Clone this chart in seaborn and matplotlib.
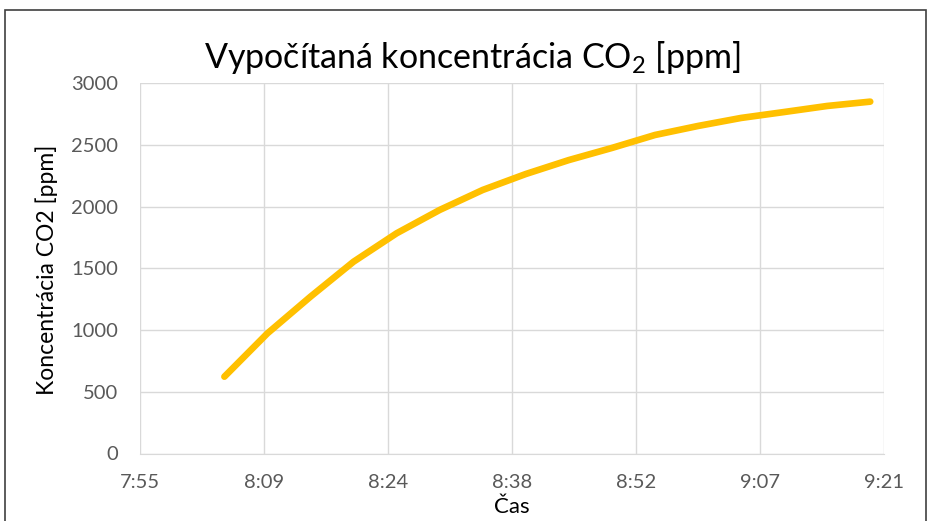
import matplotlib
matplotlib.use("Agg")
import matplotlib.pyplot as plt
import seaborn as sns
import pandas as pd
import numpy as np
from matplotlib.patches import Rectangle

# data (every 5 min)
cas = ["8:05", "8:10", "8:15", "8:20", "8:25", "8:30", "8:35", "8:40",
       "8:45", "8:50", "8:55", "9:00", "9:05", "9:10", "9:15", "9:20"]
co2 = [622, 973, 1270, 1553, 1783, 1972, 2134, 2263,
       2376, 2474, 2579, 2652, 2717, 2765, 2814, 2849]
x_ticks = [0.33, 0.34, 0.35, 0.36, 0.37, 0.38, 0.39]  # Excel day fractions
x_labels = ["7:55", "8:09", "8:24", "8:38", "8:52", "9:07", "9:21"]
y_ticks = [0, 500, 1000, 1500, 2000, 2500, 3000]

df = pd.DataFrame({"cas": cas, "co2": co2})
df["den"] = pd.to_timedelta(df["cas"] + ":00") / pd.Timedelta(days=1)

sns.set_style("white")
plt.rcParams['font.family'] = ['Lato', 'DejaVu Sans']
plt.rcParams['mathtext.fontset'] = 'custom'
plt.rcParams['mathtext.rm'] = 'Lato'

fig = plt.figure(figsize=(9.29, 5.21), dpi=100)
ax = fig.add_axes([140/929, 1-453.5/521, (884-140)/929, (453.5-83)/521])

sns.lineplot(data=df, x="den", y="co2", ax=ax, color="#FFC000", linewidth=4.8,
             solid_capstyle="round", solid_joinstyle="round")

ax.set_xlim(0.33, 0.39)
ax.set_ylim(0, 3000)
ax.set_xticks(x_ticks)
ax.set_xticklabels(x_labels)
ax.set_yticks(y_ticks)
ax.grid(True, color="#D9D9D9", linewidth=1)
ax.set_axisbelow(True)
for s in ["top", "right", "left"]:
    ax.spines[s].set_visible(False)
ax.spines["bottom"].set_color("#D9D9D9")
ax.tick_params(axis="both", length=0, labelsize=14.5, labelcolor="#595959")
ax.tick_params(axis="y", pad=16)
ax.tick_params(axis="x", pad=15)
ax.set_xlabel("")
ax.set_ylabel("")

fig.text(472/929, 1-57/521, r"Vypočítaná koncentrácia CO$_\mathrm{2}$ [ppm]",
         ha="center", va="center", fontsize=24.5, color="black")
fig.text(47/929, 1-270/521, "Koncentrácia CO2 [ppm]", rotation=90,
         ha="center", va="center", fontsize=16.5, color="black")
fig.text(512/929, 1-507/521, "Čas", ha="center", va="center",
         fontsize=16, color="black")

# chart border
fig.patches.append(Rectangle((5/929, -0.2), 921/929, 1.2-10/521,
                             transform=fig.transFigure, fill=False,
                             edgecolor="#404040", linewidth=1.2))

fig.savefig("out.png", dpi=100)
